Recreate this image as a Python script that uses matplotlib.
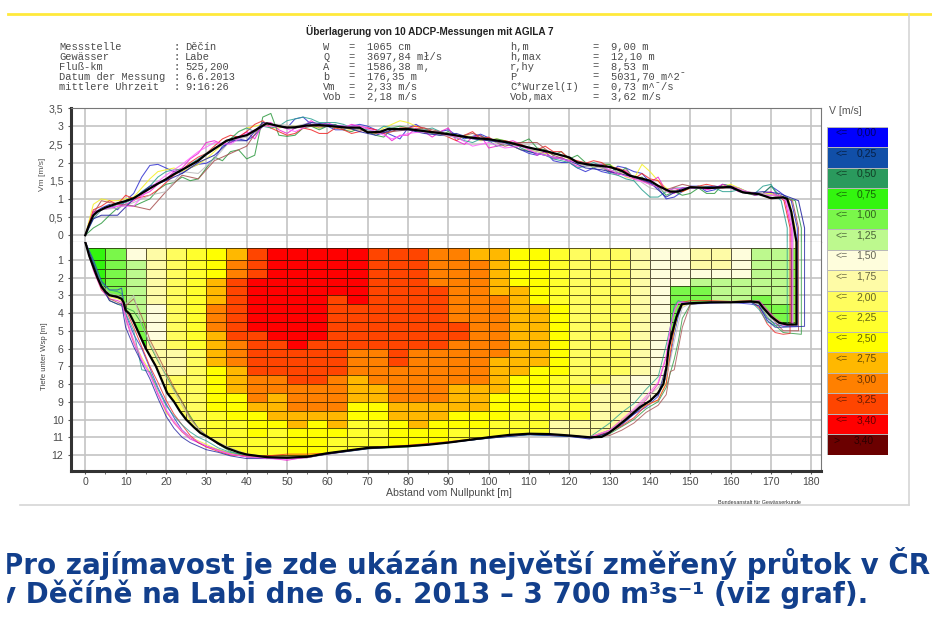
import numpy as np
import matplotlib
matplotlib.use("Agg")
import matplotlib.pyplot as plt
from matplotlib.colors import ListedColormap
from matplotlib.lines import Line2D
from matplotlib.patches import Polygon, Rectangle

W, H = 932, 624

# legend classes
level_labels = ["0,00", "0,25", "0,50", "0,75", "1,00", "1,25", "1,50", "1,75",
                "2,00", "2,25", "2,50", "2,75", "3,00", "3,25", "3,40", "3,40"]
level_colors = ["#0000ff", "#114fa8", "#2a9a5d", "#33f50f", "#7af74a", "#bdf98e",
                "#fefddc", "#fefba6", "#fffd5e", "#ffff2d", "#ffff00", "#ffb800",
                "#ff8000", "#ff4500", "#ff0000", "#6b0000"]

# velocity class of each cell, one list per 5 m column, rows top to bottom
x_edges = list(range(0, 185, 5))
depth_edges = [0.33] + [1 + 0.5 * i for i in range(24)]
cell_columns = [
    [3] * 24,
    [4] * 24,
    [6] + [5] * 7 + [4] * 2 + [3] * 14,
    [7] * 6 + [6] * 4 + [7] * 14,
    [8] * 11 + [7] * 3 + [8] * 10,
    [9] * 11 + [8] * 13,
    [10] * 3 + [11] * 3 + [12] * 3 + [11] * 4 + [10] * 5 + [9] * 3 + [8] * 3,
    [11] + [12] * 2 + [13] * 7 + [12] * 3 + [11] * 3 + [10] * 3 + [9] * 5,
    [13] * 3 + [14] * 6 + [13] * 5 + [12] * 3 + [11] + [10] * 3 + [9] * 3,
    [14] * 10 + [13] * 4 + [12] * 2 + [11] * 3 + [10] + [9] * 4,
    [14] * 11 + [13] * 4 + [12] * 3 + [11] * 2 + [10] * 4,
    [14] * 10 + [13] * 5 + [12] * 3 + [11] + [10] * 5,
    [14] * 5 + [13] * 9 + [12] * 4 + [11] * 2 + [10] + [9] * 3,
    [14] * 6 + [13] * 5 + [12] * 3 + [11] * 3 + [10] * 2 + [9] * 5,
    [13] * 11 + [12] * 4 + [11] * 2 + [10] * 2 + [9] * 5,
    [13] * 13 + [12] * 4 + [11] * 2 + [10] * 5,
    [13] * 11 + [12] * 6 + [11] * 3 + [10] * 4,
    [12] * 4 + [13] * 7 + [12] * 6 + [11] * 2 + [10] * 5,
    [12] * 8 + [13] * 2 + [12] * 5 + [11] * 3 + [10] * 2 + [9] * 4,
    [11] + [12] * 14 + [11] * 3 + [10] * 2 + [9] * 4,
    [11] * 5 + [12] * 7 + [11] * 4 + [10] * 3 + [9] * 5,
    [10] * 4 + [11] * 10 + [10] * 4 + [9] * 6,
    [10] * 6 + [11] * 7 + [10] * 5 + [9] * 6,
    [9] * 6 + [10] * 8 + [9] * 5 + [7] * 5,
    [8] * 15 + [9] * 4 + [7] * 5,
    [8] * 15 + [7] * 9,
    [8] * 14 + [7] * 10,
    [7] * 14 + [6] * 10,
    [6] * 24,
    [6] * 4 + [4] * 20,
    [7] * 2 + [6] + [5] + [4] * 20,
    [7] * 2 + [6] + [5] * 21,
    [6] * 3 + [5] * 21,
    [5] * 5 + [4] * 19,
    [5] * 6 + [4] * 2 + [3] * 16,
    [4] * 24,
]

# mean of all runs
vm_mean_x = [0, 1, 2, 3, 5, 8, 10, 12, 15, 18, 20, 22, 25, 28, 30, 33, 35, 38, 40, 42, 45, 48, 50,
             52, 55, 58, 60, 65, 68, 70, 73, 75, 80, 85, 90, 95, 100, 105, 110, 115, 120, 122, 125,
             130, 133, 135, 140, 142, 145, 147, 150, 155, 160, 163, 167, 170, 173, 174, 175, 176, 176.3]
vm_mean = [0, .3, .55, .65, .76, .88, .94, 1.02, 1.22, 1.42, 1.54, 1.68, 1.86, 2.05, 2.23, 2.45, 2.6, 2.7,
           2.75, 2.88, 3.08, 3.0, 2.96, 2.97, 3.02, 3.03, 3.01, 2.96, 2.96, 2.83, 2.84, 2.92, 2.92, 2.85,
           2.78, 2.69, 2.64, 2.55, 2.41, 2.29, 2.14, 2.0, 1.94, 1.88, 1.77, 1.64, 1.5, 1.36, 1.2, 1.2, 1.32,
           1.3, 1.33, 1.18, 1.13, 1.02, 1.04, 1.0, .65, 0, -.19]
bed_mean_x = [0, 1, 2, 3, 4, 5, 6, 8, 9, 9.5, 10, 11, 12, 13, 14, 15, 16, 17.5, 19, 20.3, 22, 23.5, 25, 27,
              28.5, 30.5, 33, 35, 38, 40, 45, 50, 55, 60, 65, 70, 75, 80, 85, 90, 95, 100, 105, 110, 115,
              120, 125, 128, 129.5, 131, 134, 137.5, 140, 142, 143.3, 144.1, 144.6, 145.4, 146.6, 147.9,
              150, 155, 160, 165, 167, 168, 170, 172, 174, 176.3, 176.3]
bed_mean = [0, .8, 1.4, 2.0, 2.5, 2.8, 3.0, 3.1, 3.2, 3.4, 3.85, 4.05, 4.5, 5.0, 5.5, 6.0, 6.4, 7.0, 7.8, 8.5,
            9.0, 9.55, 10.0, 10.45, 10.75, 11.0, 11.35, 11.6, 11.85, 11.97, 12.12, 12.15, 12.1, 11.9, 11.75,
            11.6, 11.55, 11.5, 11.42, 11.3, 11.15, 11.0, 10.87, 10.8, 10.82, 10.9, 11.0, 10.98, 10.8, 10.55,
            10.0, 9.3, 8.95, 8.5, 8.0, 7.0, 6.0, 5.2, 4.2, 3.5, 3.45, 3.4, 3.4, 3.35, 3.4, 3.7, 4.2, 4.55, 4.65,
            4.65, 0]

# the ten single measurements
run_colors = ["#3030d0", "#f4f020", "#2e9a40", "#f020d0", "#f02828", "#2aa090", "#a85050", "#b8b8b8",
              "#2020a0", "#ff60ff"]
run_ends = [176.5, 176.0, 177.5, 175.0, 174.7, 174.0, 176.8, 175.5, 178.3, 175.3]
run_tail_depth = [4.75, 4.65, 5.2, 4.65, 5.15, 4.75, 5.0, 4.7, 4.75, 4.7]

vm_x = [0, 2, 4] + list(range(8, 176, 4))
vm_a = [0, .6, .75, .7, 1.15, 1.92, 1.85, 1.7, 1.95, 2.1, 2.55, 2.6, 3.0, 3.02, 3.2, 3.05, 3.0, 2.9, 3.05, 2.9, 2.75, 2.95, 2.9, 2.85, 2.75, 2.72, 2.68, 2.5, 2.35, 2.2, 2.05, 2.0, 1.75, 1.75, 1.9, 1.75, 1.45, 1.0, 1.2, 1.35, 1.25, 1.35, 1.2, 1.15, 1.2]
vm_b = [0, .85, 1.0, .95, 1.05, 1.55, 1.8, 1.75, 1.95, 2.3, 2.65, 2.95, 3.05, 2.95, 3.0, 3.0, 3.02, 2.95, 2.9, 2.8, 3.05, 3.1, 2.9, 2.82, 2.7, 2.7, 2.62, 2.6, 2.35, 2.3, 2.25, 2.1, 1.95, 1.92, 1.8, 1.55, 1.75, 1.3, 1.2, 1.35, 1.3, 1.4, 1.2, 1.15, 1.05]
vm_c = [0, .2, .33, .75, .8, 1.0, 1.4, 1.6, 1.55, 2.15, 2.3, 2.1, 3.25, 2.75, 2.75, 3.0, 3.0, 2.9, 2.95, 2.75, 2.95, 2.95, 2.85, 2.75, 2.75, 2.7, 2.6, 2.6, 2.55, 2.4, 2.2, 2.1, 2.0, 1.95, 1.7, 1.55, 1.4, 1.1, 1.1, 1.3, 1.15, 1.35, 1.15, 1.15, 1.1]
vm_d = [0, .65, .7, .8, .95, 1.2, 1.55, 1.85, 2.25, 2.6, 2.55, 2.85, 3.05, 2.9, 2.95, 3.15, 3.1, 2.95, 3.0, 2.9, 2.6, 2.75, 2.85, 2.85, 2.6, 2.7, 2.4, 2.55, 2.5, 2.2, 2.1, 2.0, 1.9, 1.95, 1.65, 1.55, 1.45, 1.2, 1.3, 1.35, 1.3, 1.3, 1.2, 1.15, 1.05]
vm_e = [0, .7, .8, .85, 1.0, 1.1, 1.45, 1.8, 2.15, 2.45, 2.75, 2.85, 3.15, 2.85, 2.8, 2.9, 2.8, 2.9, 2.85, 2.9, 2.85, 2.95, 2.95, 2.8, 2.6, 2.85, 2.7, 2.6, 2.5, 2.35, 2.3, 2.1, 1.98, 2.0, 1.85, 1.55, 1.55, 1.2, 1.2, 1.35, 1.35, 1.35, 1.15, 1.1, 1.1]
vm_f = [0, .45, .7, .85, 1.0, 1.35, 1.75, 1.8, 2.1, 2.4, 2.65, 2.95, 3.0, 3.0, 3.2, 3.2, 3.1, 3.05, 2.95, 2.85, 2.95, 2.95, 2.9, 2.85, 2.68, 2.55, 2.6, 2.5, 2.4, 2.25, 2.1, 2.0, 1.9, 1.9, 1.65, 1.5, 1.05, 1.2, 1.3, 1.3, 1.3, 1.2, 1.15, 1.35, 1.0]
vm_g = [0, .6, .95, .85, .8, .7, 1.2, 1.65, 1.55, 2.05, 2.25, 2.45, 3.1, 3.0, 2.95, 3.0, 3.0, 2.95, 2.9, 2.8, 2.85, 2.9, 2.95, 2.85, 2.7, 2.8, 2.65, 2.45, 2.55, 2.55, 2.2, 2.05, 2.0, 1.85, 1.7, 1.6, 1.4, 1.25, 1.4, 1.3, 1.3, 1.3, 1.2, 1.1, 1.1]
vm_h = [0, .5, .7, .75, .9, 1.1, 1.2, 1.75, 1.7, 2.1, 2.6, 2.7, 3.05, 3.05, 3.0, 3.1, 3.0, 2.95, 2.9, 2.85, 2.95, 2.9, 2.9, 2.75, 2.7, 2.7, 2.6, 2.5, 2.45, 2.3, 2.15, 2.05, 1.9, 1.85, 1.75, 1.6, 1.3, 1.2, 1.25, 1.35, 1.3, 1.3, 1.2, 1.15, 1.05]
vm_i = [0, .45, .55, .55, 1.0, 1.35, 1.5, 1.7, 2.0, 2.2, 2.6, 2.6, 3.1, 3.0, 2.95, 3.1, 3.05, 3.0, 2.85, 2.75, 2.9, 2.9, 2.8, 2.75, 2.8, 2.65, 2.6, 2.55, 2.35, 2.25, 2.15, 2.05, 1.85, 1.8, 1.7, 1.6, 1.45, 1.05, 1.3, 1.3, 1.35, 1.3, 1.15, 1.2, 1.15]
vm_j = [0, .6, .7, .8, .8, 1.3, 1.65, 1.95, 2.3, 2.55, 2.5, 2.8, 3.0, 3.0, 2.85, 3.05, 3.0, 3.0, 3.0, 2.85, 2.65, 2.8, 2.85, 2.8, 2.7, 2.45, 2.55, 2.4, 2.45, 2.25, 2.15, 2.05, 1.95, 1.9, 1.7, 1.55, 1.4, 1.25, 1.3, 1.3, 1.3, 1.35, 1.2, 1.1, 1.1]
vm_runs = [vm_a, vm_b, vm_c, vm_d, vm_e, vm_f, vm_g, vm_h, vm_i, vm_j]

# extra readings between the 4 m points for the runs that stand out most
vm_mid_x = list(range(6, 174, 4))
mid_a = [.85, .95, 1.6, 1.95, 1.75, 1.85, 1.98, 2.45, 2.65, 2.75, 3.05, 2.95, 3.25, 2.95, 2.9, 3.0, 3.0, 2.85, 2.65, 3.05, 2.85, 2.9, 2.65, 2.78, 2.55, 2.45, 2.25, 2.3, 2.0, 1.85, 1.85, 1.7, 1.85, 1.7, 1.3, 1.05, 1.35, 1.2, 1.4, 1.3, 1.1, 1.35]
mid_b = [.95, 1.0, 1.3, 1.75, 1.85, 1.85, 2.1, 2.5, 2.85, 3.0, 2.95, 3.0, 3.0, 2.95, 2.95, 2.9, 2.85, 2.95, 3.15, 3.0, 2.85, 2.75, 2.75, 2.6, 2.65, 2.45, 2.35, 2.25, 2.2, 2.0, 1.9, 1.95, 1.6, 1.95, 1.5, 1.2, 1.3, 1.3, 1.35, 1.3, 1.15, 1.15]
mid_c = [.55, .85, .9, 1.25, 1.45, 1.5, 1.85, 2.05, 2.35, 2.2, 3.35, 2.72, 2.95, 2.9, 3.05, 2.85, 2.85, 2.7, 3.0, 2.85, 2.8, 2.85, 2.7, 2.75, 2.65, 2.55, 2.65, 2.35, 2.3, 2.2, 1.85, 1.95, 1.85, 1.6, 1.35, 1.2, 1.15, 1.15, 1.4, 1.2, 1.1, 1.35]
mid_d = [.75, .85, 1.1, 1.4, 1.75, 2.1, 2.55, 2.5, 2.7, 2.65, 3.1, 2.8, 3.0, 3.0, 3.0, 3.05, 2.95, 2.8, 2.75, 2.95, 2.7, 2.95, 2.5, 2.75, 2.45, 2.6, 2.35, 2.3, 2.15, 1.9, 1.95, 1.75, 1.8, 1.5, 1.6, 1.15, 1.3, 1.25, 1.4, 1.2, 1.1, 1.2]
mid_e = [.95, 1.1, 1.05, 1.25, 1.65, 2.0, 2.25, 2.65, 2.7, 3.05, 2.95, 2.75, 2.95, 2.8, 2.95, 2.8, 2.95, 2.8, 2.95, 3.0, 2.85, 2.7, 2.75, 2.65, 2.55, 2.55, 2.4, 2.45, 2.3, 2.05, 2.05, 1.85, 1.75, 1.7, 1.5, 1.3, 1.3, 1.4, 1.3, 1.25, 1.15, 1.0]
mid_f = [.75, .9, 1.2, 1.6, 1.8, 1.95, 2.25, 2.5, 2.85, 2.85, 2.95, 3.15, 3.25, 3.1, 3.1, 2.95, 2.9, 3.0, 2.9, 2.9, 2.95, 2.75, 2.6, 2.65, 2.45, 2.55, 2.3, 2.2, 2.05, 1.85, 2.0, 1.7, 1.55, 1.25, 1.05, 1.3, 1.3, 1.35, 1.2, 1.25, 1.15, 1.4]
vm_mids = [mid_a, mid_b, mid_c, mid_d, mid_e, mid_f, None, None, None, None]

bed_x = [0, 2, 4, 6, 8, 9, 10, 12, 14, 16, 18, 20, 22, 24, 26, 28, 30, 33, 36, 40, 45, 50, 55, 60, 70,
         80, 90, 100, 110, 120, 125, 130, 133, 136, 139, 142, 144, 145, 146, 147, 148, 150, 155, 160,
         165, 167, 169, 171, 173]
bed_a = [0, 1.0, 2.2, 2.7, 2.7, 2.6, 4.1, 5.2, 6.0, 7.1, 8.2, 9.1, 9.9, 10.6, 11.0, 11.3, 11.5, 11.7, 11.9, 12.1, 12.2, 12.1, 12.15, 11.9, 11.6, 11.5, 11.3, 11.05, 10.85, 10.95, 11.05, 10.7, 10.3, 9.7, 9.3, 8.7, 7.6, 6.5, 5.2, 4.2, 3.5, 3.5, 3.45, 3.4, 3.5, 3.6, 4.3, 4.6, 4.75]
bed_b = [0, 1.5, 2.7, 3.1, 3.2, 3.3, 4.2, 5.6, 6.5, 7.3, 8.5, 9.6, 10.1, 10.7, 11.0, 11.2, 11.4, 11.7, 11.9, 12.05, 12.15, 12.1, 12.1, 11.9, 11.6, 11.5, 11.3, 11.0, 10.8, 10.9, 11.0, 10.6, 10.0, 9.6, 9.2, 8.9, 7.9, 6.2, 5.0, 4.0, 3.6, 3.45, 3.4, 3.4, 3.35, 3.4, 3.9, 4.3, 4.6]
bed_c = [0, 1.2, 2.4, 3.3, 3.5, 3.6, 3.7, 3.9, 4.6, 5.8, 6.7, 7.5, 8.3, 9.0, 9.8, 10.5, 10.9, 11.4, 11.8, 12.1, 12.2, 12.2, 12.15, 11.95, 11.65, 11.55, 11.3, 11.05, 10.85, 10.9, 11.0, 10.8, 10.4, 10.0, 9.4, 9.0, 8.2, 7.4, 6.6, 5.6, 4.3, 3.5, 3.4, 3.4, 3.35, 3.5, 4.2, 4.7, 5.1]
bed_d = [0, 1.6, 2.7, 3.2, 3.3, 3.4, 4.3, 5.7, 6.7, 7.4, 8.6, 9.5, 10.2, 10.7, 11.1, 11.3, 11.5, 11.75, 11.95, 12.1, 12.15, 12.3, 12.1, 11.95, 11.6, 11.5, 11.3, 11.0, 10.8, 10.9, 11.0, 10.6, 10.1, 9.5, 8.9, 8.0, 6.5, 4.9, 3.8, 3.4, 3.35, 3.4, 3.4, 3.35, 3.35, 3.3, 3.8, 4.3, 4.6]
bed_e = [0, 1.3, 2.6, 3.0, 3.1, 3.2, 3.8, 4.8, 5.9, 7.0, 7.9, 8.9, 9.7, 10.3, 10.9, 11.3, 11.55, 11.8, 12.0, 12.05, 12.05, 11.95, 11.95, 11.9, 11.6, 11.45, 11.25, 11.0, 10.8, 10.9, 11.0, 10.7, 10.35, 9.9, 9.2, 8.9, 8.0, 6.3, 4.8, 3.8, 3.4, 3.3, 3.3, 3.35, 3.3, 3.7, 4.6, 5.1, 5.2]
bed_f = [0, 1.1, 2.3, 2.7, 2.8, 2.9, 4.0, 5.0, 7.2, 7.3, 8.3, 9.2, 9.8, 10.3, 10.7, 11.0, 11.2, 11.6, 11.85, 12.0, 12.15, 12.15, 12.1, 11.9, 11.6, 11.5, 11.3, 11.0, 10.85, 10.95, 11.0, 10.2, 9.6, 9.1, 8.3, 7.6, 5.8, 4.8, 3.6, 3.3, 3.4, 3.4, 3.4, 3.4, 3.35, 3.8, 4.5, 4.7, 4.7]
bed_g = [0, 1.4, 2.6, 3.2, 3.4, 3.5, 3.6, 3.2, 4.2, 5.5, 6.4, 7.3, 8.2, 9.0, 9.9, 10.5, 10.9, 11.4, 11.7, 11.95, 12.1, 12.15, 12.1, 11.9, 11.6, 11.5, 11.3, 11.0, 10.8, 10.9, 11.0, 10.9, 10.6, 10.2, 9.6, 9.2, 8.6, 7.3, 7.2, 6.0, 4.8, 3.5, 3.4, 3.4, 3.35, 3.4, 4.0, 4.5, 5.0]
bed_h = [0, 1.3, 2.4, 2.9, 3.0, 3.1, 3.5, 3.0, 4.7, 5.7, 6.6, 7.6, 8.4, 9.2, 10.0, 10.5, 10.9, 11.3, 11.6, 11.95, 12.1, 12.1, 12.1, 11.9, 11.6, 11.5, 11.3, 11.0, 10.8, 10.9, 11.0, 10.6, 10.1, 9.5, 8.8, 8.2, 7.6, 6.7, 5.6, 4.6, 3.7, 3.45, 3.4, 3.4, 3.35, 3.5, 4.1, 4.5, 4.7]
bed_i = [0, 1.2, 2.5, 3.3, 3.5, 3.5, 4.8, 5.9, 6.8, 7.7, 8.8, 9.8, 10.5, 11.0, 11.3, 11.5, 11.7, 11.85, 12.05, 12.2, 12.2, 12.15, 12.1, 11.95, 11.65, 11.5, 11.3, 11.05, 10.85, 10.95, 11.1, 10.7, 10.2, 9.7, 9.1, 8.6, 7.0, 5.5, 4.5, 3.8, 3.45, 3.45, 3.4, 3.4, 3.4, 3.6, 4.4, 4.8, 4.8]
bed_j = [0, 1.4, 2.5, 3.0, 3.1, 3.2, 4.2, 5.5, 6.6, 7.5, 8.5, 9.4, 10.1, 10.6, 11.0, 11.25, 11.5, 11.75, 11.95, 12.1, 12.2, 12.25, 12.15, 11.9, 11.6, 11.5, 11.3, 11.0, 10.8, 10.9, 11.0, 10.6, 10.0, 9.4, 8.7, 7.9, 6.4, 4.8, 3.9, 3.4, 3.4, 3.45, 3.4, 3.4, 3.35, 3.35, 3.9, 4.4, 4.7]
bed_runs = [bed_a, bed_b, bed_c, bed_d, bed_e, bed_f, bed_g, bed_h, bed_i, bed_j]

info_left = [("Messstelle", "Děčín"), ("Gewässer", "Labe"), ("Fluß-km", "525,200"),
             ("Datum der Messung", "6.6.2013"), ("mittlere Uhrzeit", "9:16:26")]
info_mid = [("W", "1065 cm"), ("Q", "3697,84 mł/s"), ("A", "1586,38 m‚"), ("b", "176,35 m"),
            ("Vm", "2,33 m/s"), ("Vob", "2,18 m/s")]
info_right = [("h,m", "9,00 m"), ("h,max", "12,10 m"), ("r,hy", "8,53 m"), ("P", "5031,70 m^2ˉ"),
              ("C*Wurzel(I)", "0,73 m^ˉ/s"), ("Vob,max", "3,62 m/s")]
info_rows = [47, 57, 66.5, 76.5, 87, 97]

x_ticks = list(range(0, 190, 10))
vm_ticks = [0, 0.5, 1, 1.5, 2, 2.5, 3, 3.5]
vm_tick_labels = ["0", "0,5", "1", "1,5", "2", "2,5", "3", "3,5"]
depth_ticks = list(range(1, 13))

TEXT = "#4a4a4a"
GRID = "#c4c4c4"
SANS = "Liberation Sans"
MONO = "Liberation Mono"

fig = plt.figure(figsize=(W / 100, H / 100), dpi=100, facecolor="white")


def box(left, top, right, bottom):
    return [left / W, 1 - bottom / H, (right - left) / W, (bottom - top) / H]


def put(x, y, s, **kw):
    kw.setdefault("va", "center")
    kw.setdefault("color", TEXT)
    kw.setdefault("family", SANS)
    return fig.text(x / W, 1 - y / H, s, **kw)


def rule(x0, y0, x1, y1, color, lw):
    fig.add_artist(Line2D([x0 / W, x1 / W], [1 - y0 / H, 1 - y1 / H], color=color, lw=lw))


def style_axes(ax):
    ax.set_xlim(-3.54, 182.3)
    ax.set_xticks(x_ticks)
    ax.grid(True, color=GRID, lw=1.2)
    ax.set_axisbelow(True)
    ax.spines["top"].set_color("#777777")
    ax.spines["right"].set_color("#777777")
    ax.spines["left"].set_linewidth(2.2)
    ax.spines["left"].set_color("#333333")
    ax.tick_params(axis="y", labelsize=7.6, labelcolor=TEXT, color="#555555", length=2.5, pad=3)
    for lab in ax.get_yticklabels():
        lab.set_family(SANS)


rule(8, 14, W, 14, "#ffe93b", 2)
rule(909, 14, 909, 505, "#d6d6d6", 1.2)
rule(20, 505, 909, 505, "#d6d6d6", 1.2)

# velocity panel
ax1 = fig.add_axes(box(71, 108, 820.7, 242))
ax1.set_ylim(-0.186, 3.5)
ax1.set_yticks(vm_ticks)
ax1.set_yticklabels(vm_tick_labels, family=SANS)
style_axes(ax1)
ax1.tick_params(axis="x", bottom=False, labelbottom=False)
ax1.spines["bottom"].set_color("#444444")
for run, mid, color, end in zip(vm_runs, vm_mids, run_colors, run_ends):
    pts = list(zip(vm_x, run))
    if mid is not None:
        pts = sorted(pts + list(zip(vm_mid_x, mid)))
    xs = [p[0] for p in pts]
    ys = [p[1] for p in pts]
    ax1.plot(xs + [end - 1.5, end, end], ys + [0.95, 0.2, -0.19], color=color, lw=0.75, alpha=0.85)
ax1.plot(vm_mean_x, vm_mean, color="black", lw=1.6)

# cross section panel
ax2 = fig.add_axes(box(71, 242, 820.7, 471))
ax2.set_ylim(12.9, 0)
ax2.set_yticks(depth_ticks)
style_axes(ax2)
ax2.spines["top"].set_visible(False)
ax2.spines["bottom"].set_linewidth(2.2)
ax2.spines["bottom"].set_color("#333333")
ax2.set_xticks(list(range(0, 185, 5)), minor=True)
ax2.tick_params(axis="x", which="both", labelsize=7.6, labelcolor=TEXT, color="#555555", length=2.5, pad=2)
ax2.set_xticklabels([str(t) for t in x_ticks], family=SANS)

cells = np.array(cell_columns).T
cmap = ListedColormap(level_colors)
mesh = ax2.pcolormesh(x_edges, depth_edges, cells, cmap=cmap, vmin=-0.5, vmax=15.5,
                      edgecolors=(0.1, 0.07, 0, 0.7), linewidth=0.7, zorder=2)
bed_shape = Polygon(list(zip(bed_mean_x, bed_mean)), closed=True, transform=ax2.transData)
mesh.set_clip_path(bed_shape)

for run, color, end, tail in zip(bed_runs, run_colors, run_ends, run_tail_depth):
    ax2.plot(bed_x + [end, end], run + [tail, 0], color=color, lw=0.7, alpha=0.8, zorder=3)
ax2.plot(bed_mean_x, bed_mean, color="black", lw=1.6, zorder=4)

# colour key
ax3 = fig.add_axes(box(827, 126.7, 888, 455))
ax3.barh(range(len(level_colors)), [1] * len(level_colors), height=1, color=level_colors,
         edgecolor="#b8b8b8", linewidth=0.7)
ax3.set_xlim(0, 1)
ax3.set_ylim(15.5, -0.5)
ax3.axis("off")
for i, lab in enumerate(level_labels):
    op = ">" if i == 15 else "<="
    ax3.text(0.14 if i < 15 else 0.1, i - 0.2, op, fontsize=7.5, family=SANS, color="black", alpha=0.55, va="center")
    ax3.text(0.48 if i < 15 else 0.44, i - 0.2, lab, fontsize=7.5, family=SANS, color="black", alpha=0.6, va="center")

# header block
put(429.5, 31, "Überlagerung von 10 ADCP-Messungen mit AGILA 7", fontsize=7.2, weight="bold", ha="center",
    color="#222222")
for y, (name, value) in zip(info_rows, info_left):
    put(59, y, name, family=MONO, fontsize=7.5)
    put(174, y, ":", family=MONO, fontsize=7.5)
    put(185, y, value, family=MONO, fontsize=7.5)
for y, (name, value) in zip(info_rows, info_mid):
    put(323, y, name, family=MONO, fontsize=7.5)
    put(348, y, "=", family=MONO, fontsize=7.5)
    put(367, y, value, family=MONO, fontsize=7.5)
for y, (name, value) in zip(info_rows, info_right):
    put(510, y, name, family=MONO, fontsize=7.5)
    put(592, y, "=", family=MONO, fontsize=7.5)
    put(611, y, value, family=MONO, fontsize=7.5)

put(43, 174, "Vm [m/s]", rotation=90, ha="center", fontsize=6, color="#555555")
put(45, 356, "Tiefe unter Wsp [m]", rotation=90, ha="center", fontsize=5.6, color="#444444")
put(449, 493, "Abstand vom Nullpunkt [m]", ha="center", fontsize=7.6)
put(829, 111, "V [m/s]", fontsize=7.6, color="#555555")
put(718, 503, "Bundesanstalt für Gewässerkunde", fontsize=3.9, color="#333333")

# caption under the chart, its left edge is cut in the source
put(3, 563, "Pro zajímavost je zde ukázán největší změřený průtok v ČR", family="DejaVu Sans", weight="bold",
    fontsize=20, color="#123f8c")
put(-2, 594, "v Děčíně na Labi dne 6. 6. 2013 – 3 700 m³s⁻¹ (viz graf).", family="DejaVu Sans", weight="bold",
    fontsize=20, color="#123f8c")
fig.add_artist(Rectangle((0, 1 - 610 / H), 6 / W, 60 / H, transform=fig.transFigure, color="white", zorder=10))

fig.savefig("out.png", dpi=100)
